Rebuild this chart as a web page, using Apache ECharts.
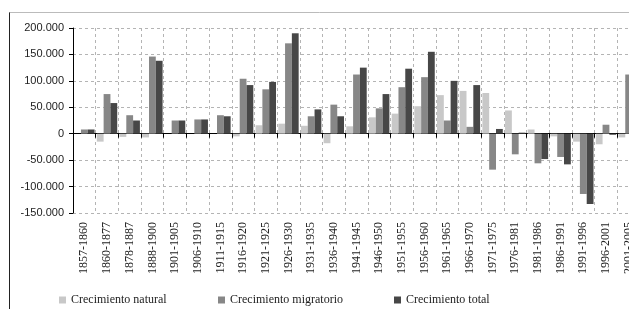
<!DOCTYPE html>
<html>
<head>
<meta charset="utf-8">
<script src="https://cdn.jsdelivr.net/npm/echarts@6/dist/echarts.min.js"></script>
<style>
  html, body { margin: 0; padding: 0; background: #fff; }
  #chart { width: 629px; height: 309px; }
</style>
</head>
<body>
<div id="chart"></div>
<script>
// periodos
const periodos = ['1857-1860', '1860-1877', '1878-1887', '1888-1900', '1901-1905', '1906-1910',
  '1911-1915', '1916-1920', '1921-1925', '1926-1930', '1931-1935', '1936-1940', '1941-1945',
  '1946-1950', '1951-1955', '1956-1960', '1961-1965', '1966-1970', '1971-1975', '1976-1981',
  '1981-1986', '1986-1991', '1991-1996', '1996-2001', '2001-2005'];

const natural = [0, -15000, -6000, -7000, 0, 0, 0, -5000, 16000, 19000, 15000, -18000, 14000,
  31000, 38000, 52000, 73000, 81000, 77000, 44000, 8000, -5000, -15000, -20000, -7000];

const migratorio = [8000, 75000, 35000, 146000, 25000, 27000, 35000, 104000, 84000, 171000, 33000, 55000, 112000,
  48000, 88000, 107000, 25000, 13000, -68000, -39000, -56000, -44000, -114000, 17000, 112000];

const total = [8000, 58000, 25000, 138000, 25000, 27000, 33000, 92000, 98000, 190000, 46000, 33000, 125000,
  75000, 123000, 155000, 100000, 92000, 9000, 2000, -48000, -58000, -133000, -2000, 105000];

const yTicks = { min: -150000, max: 200000, step: 50000 };

function miles(v) {
  const s = Math.abs(v).toString().replace(/\B(?=(\d{3})+(?!\d))/g, '.');
  return (v < 0 ? '-' : '') + s;
}

const chart = echarts.init(document.getElementById('chart'));
const serif = "'Liberation Serif', 'Times New Roman', serif";
const legendText = { fontFamily: serif, fontSize: 12, color: '#222' };

chart.setOption({
  backgroundColor: '#fff',
  animation: false,
  color: ['#c8c8c8', '#878787', '#474747'],
  // la ultima categoria queda cortada por el borde derecho
  grid: { left: 73, top: 28, bottom: 96, width: 567, outerBoundsMode: 'none', containLabel: false },
  legend: [
    { data: ['Crecimiento natural'], left: 54, top: 289, itemWidth: 7, itemHeight: 7, itemGap: 3, textStyle: legendText, icon: 'rect' },
    { data: ['Crecimiento migratorio'], left: 213, top: 289, itemWidth: 7, itemHeight: 7, textStyle: legendText, icon: 'rect' },
    { data: ['Crecimiento total'], left: 389, top: 289, itemWidth: 7, itemHeight: 7, textStyle: legendText, icon: 'rect' }
  ],
  xAxis: [
    {
      type: 'category',
      data: periodos,
      axisLine: { onZero: true, lineStyle: { color: '#000', width: 1 } },
      axisTick: { show: true, interval: 0, length: 4, lineStyle: { color: '#000' } },
      axisLabel: { show: false },
      splitLine: { show: true, interval: 0, lineStyle: { color: '#b4b4b4', type: [3, 3] } }
    },
    {
      type: 'category',
      data: periodos,
      position: 'bottom',
      axisLine: { show: false, onZero: false },
      axisTick: { show: false },
      splitLine: { show: false },
      axisLabel: { rotate: 90, margin: 9, interval: 0, fontFamily: serif, fontSize: 12, color: '#222' }
    }
  ],
  yAxis: {
    type: 'value',
    min: yTicks.min,
    max: yTicks.max,
    interval: yTicks.step,
    axisLine: { show: true, lineStyle: { color: '#000' } },
    axisTick: { show: true, length: 4, lineStyle: { color: '#000' } },
    axisLabel: { margin: 9, fontFamily: 'Liberation Sans', fontSize: 11, color: '#222', formatter: miles },
    splitLine: { show: true, lineStyle: { color: '#b4b4b4', type: [3, 3] } }
  },
  series: [
    { name: 'Crecimiento natural', type: 'bar', data: natural, barGap: '0%', barCategoryGap: '10%' },
    { name: 'Crecimiento migratorio', type: 'bar', data: migratorio, barGap: '0%', barCategoryGap: '10%' },
    { name: 'Crecimiento total', type: 'bar', data: total, barGap: '0%', barCategoryGap: '10%' }
  ],
  graphic: [
    { type: 'line', shape: { x1: 9.5, y1: 12, x2: 9.5, y2: 309 }, style: { stroke: '#222', lineWidth: 1 } },
    { type: 'line', shape: { x1: 9.5, y1: 12.5, x2: 629, y2: 12.5 }, style: { stroke: '#bbb', lineWidth: 1 } }
  ]
});
</script>
</body>
</html>
